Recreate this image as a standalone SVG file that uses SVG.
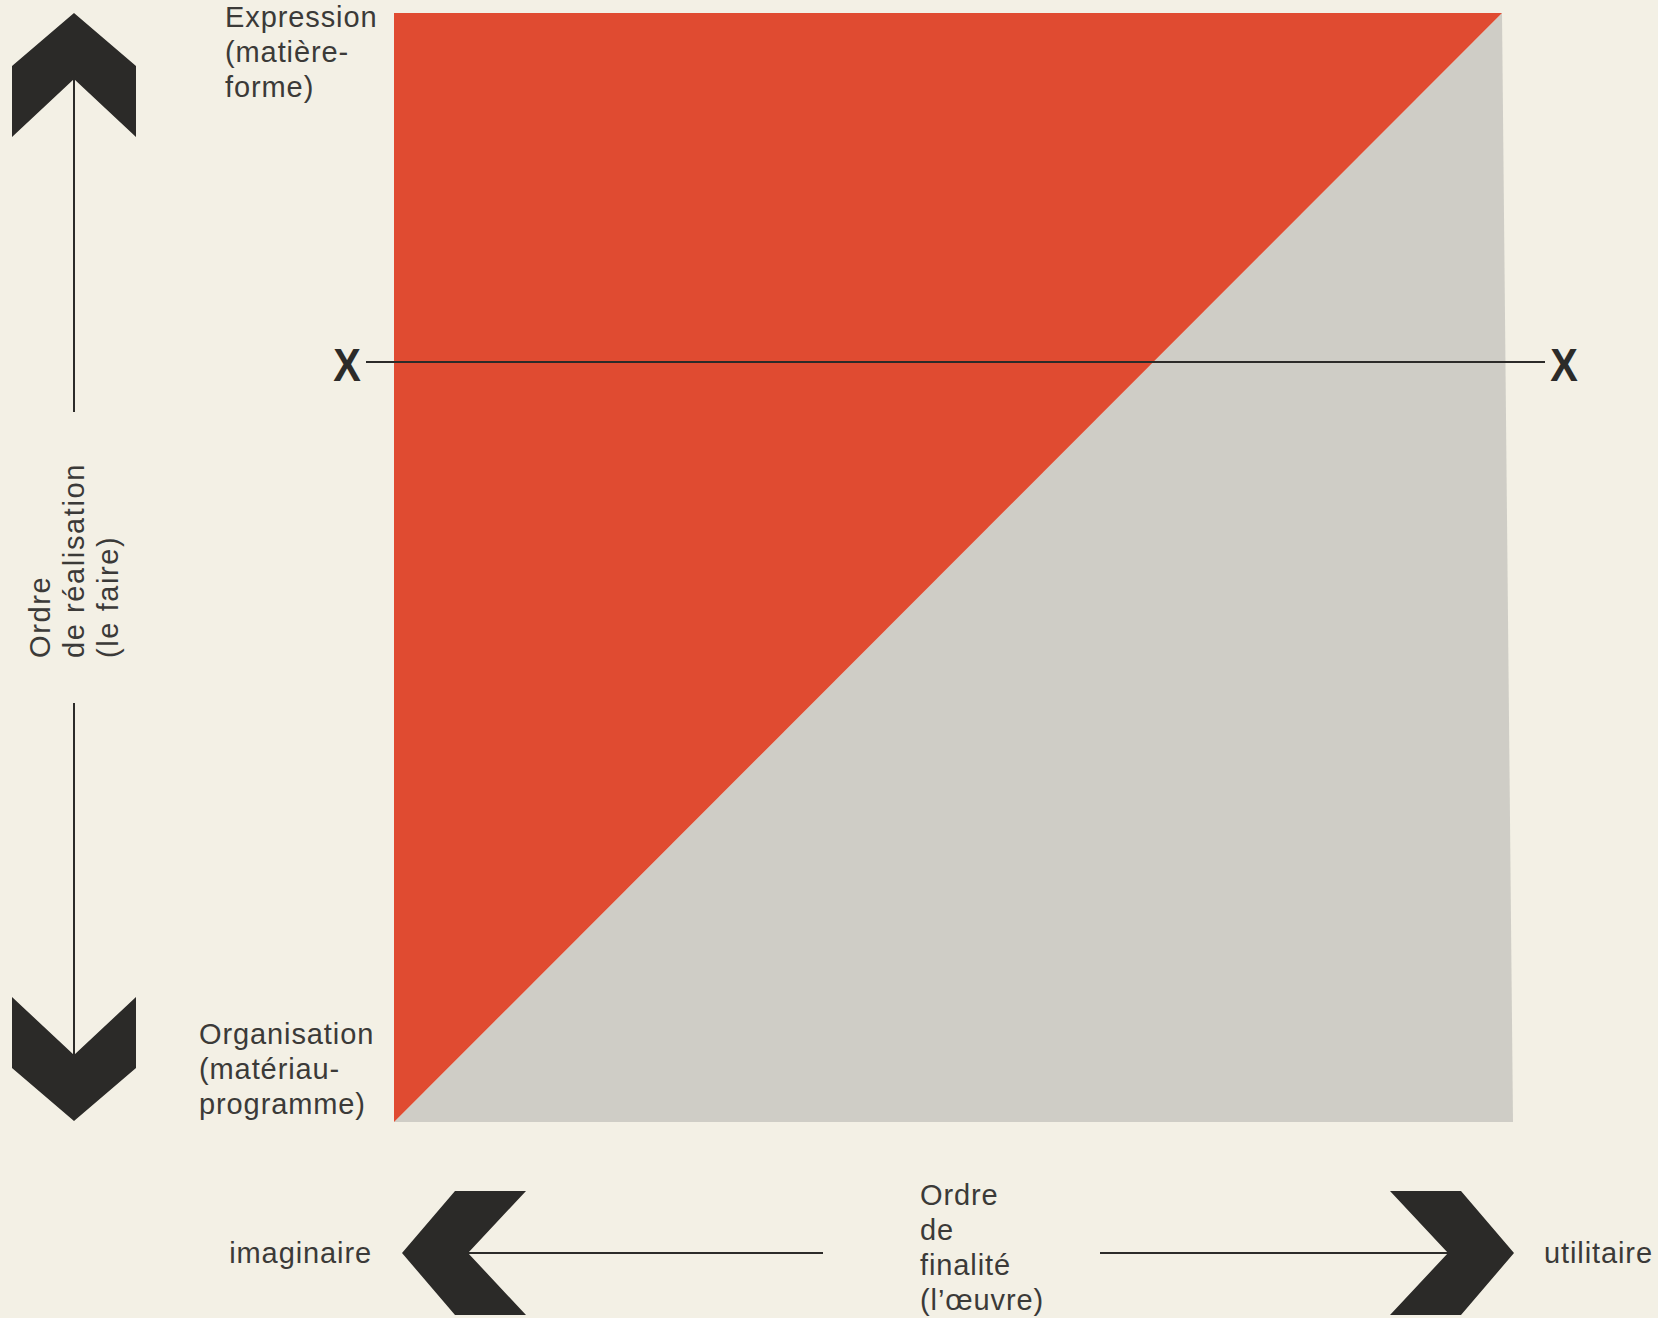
<svg xmlns="http://www.w3.org/2000/svg" width="1658" height="1318" viewBox="0 0 1658 1318">
<style>
.lbl{font-family:"Liberation Sans","Helvetica",Arial,sans-serif;font-size:29px;letter-spacing:0.9px;fill:#3b3a38}
.vert .lbl{letter-spacing:1.6px}
.xm{font-family:"Liberation Sans",Arial,sans-serif;font-size:47px;font-weight:bold;fill:#2c2b29}
.ln{stroke:#2c2b29;stroke-width:2;fill:none}
.chev{fill:#2b2a28}
</style>
<defs>
<path id="chevron" d="M0,0 L62,53 L62,124 L0,66 L-62,124 L-62,53 Z"/>
</defs>
<rect width="1658" height="1318" fill="#f3f0e5"/>
<g id="square">
<polygon points="1502,13 1513,1122 394,1122" fill="#cfcdc6"/>
<polygon points="394,13 1502,13 394,1122" fill="#e04b31"/>
</g>
<g id="connectors">
<line class="ln" x1="74" y1="78" x2="74" y2="412"/>
<line class="ln" x1="74" y1="703" x2="74" y2="1056"/>
<line class="ln" x1="464" y1="1253" x2="823" y2="1253"/>
<line class="ln" x1="1100" y1="1253" x2="1450" y2="1253"/>
<line class="ln" x1="366" y1="362" x2="1545" y2="362"/>
</g>
<g id="arrow-up"><use href="#chevron" class="chev" transform="translate(74,13)"/></g>
<g id="arrow-down"><use href="#chevron" class="chev" transform="translate(74,1121) rotate(180)"/></g>
<g id="arrow-left"><use href="#chevron" class="chev" transform="translate(402,1253) rotate(-90)"/></g>
<g id="arrow-right"><use href="#chevron" class="chev" transform="translate(1514,1253) rotate(90)"/></g>
<g id="x-left"><text class="xm" x="0" y="0" text-anchor="middle" transform="translate(347,381) scale(0.88,1)">X</text></g>
<g id="x-right"><text class="xm" x="0" y="0" text-anchor="middle" transform="translate(1564,381) scale(0.88,1)">X</text></g>
<g id="label-expression">
<text class="lbl" x="225" y="27">Expression</text>
<text class="lbl" x="225" y="62">(matière-</text>
<text class="lbl" x="225" y="97">forme)</text>
</g>
<g id="label-organisation">
<text class="lbl" x="199" y="1044">Organisation</text>
<text class="lbl" x="199" y="1079">(matériau-</text>
<text class="lbl" x="199" y="1114">programme)</text>
</g>
<g id="label-realisation" class="vert" transform="translate(50,658) rotate(-90)">
<text class="lbl" x="0" y="0">Ordre</text>
<text class="lbl" x="0" y="34">de réalisation</text>
<text class="lbl" x="0" y="68">(le faire)</text>
</g>
<g id="label-finalite">
<text class="lbl" x="920" y="1205">Ordre</text>
<text class="lbl" x="920" y="1240">de</text>
<text class="lbl" x="920" y="1275">finalité</text>
<text class="lbl" x="920" y="1310">(l’œuvre)</text>
</g>
<g id="label-imaginaire"><text class="lbl" x="372" y="1263" text-anchor="end">imaginaire</text></g>
<g id="label-utilitaire"><text class="lbl" x="1544" y="1263">utilitaire</text></g>
</svg>
